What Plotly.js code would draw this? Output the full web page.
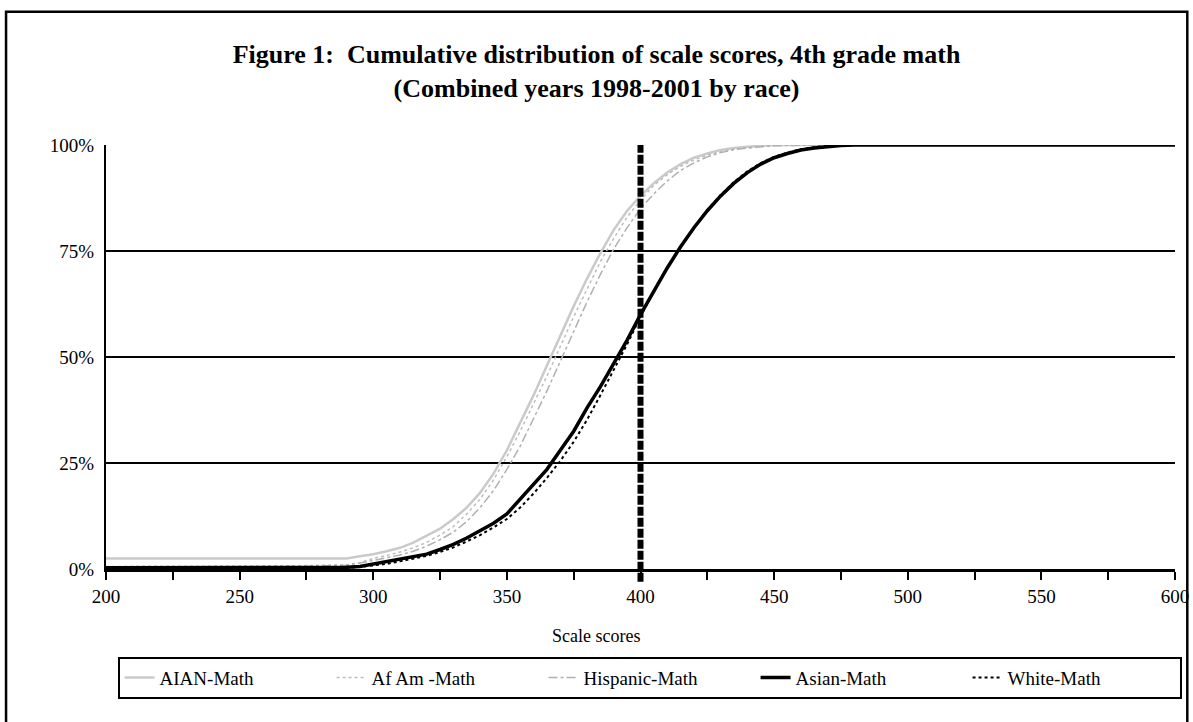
<!DOCTYPE html>
<html>
<head>
<meta charset="utf-8">
<script src="https://cdn.plot.ly/plotly-3.0.1.min.js"></script>
<style>
  html, body { margin: 0; padding: 0; background: #ffffff; }
  #chart { width: 1193px; height: 722px; }
</style>
</head>
<body>
<div id="chart"></div>
<script>
// Scale-score grid (x values shared by every series)
const scores = [200, 225, 250, 275, 290, 295, 300, 305, 310, 315, 320, 325, 330, 335, 340, 345,
  350, 355, 360, 365, 370, 375, 380, 385, 390, 395, 400, 405, 410, 415, 420, 425, 430, 435,
  440, 445, 450, 455, 460, 465, 470, 475, 480, 500, 550, 600];

// Cumulative percent of students at or below each score
const aianMath = [2.5, 2.5, 2.4, 2.4, 2.5, 3.0, 3.5, 4.2, 5.0, 6.2, 7.8, 9.5, 11.8, 14.5, 18.0, 22.5,
  28.0, 34.5, 41.0, 48.0, 55.0, 62.0, 68.5, 74.5, 80.0, 84.5, 88.0, 91.0, 93.5, 95.5, 97.0, 98.0, 98.8, 99.3,
  99.6, 99.8, 100, 100, 100, 100, 100, 100, 100, 100, 100, 100];
const afAmMath = [0.6, 0.6, 0.7, 0.8, 1.0, 1.5, 2.5, 3.2, 4.0, 5.0, 6.3, 8.0, 10.0, 13.0, 16.5, 21.0,
  26.5, 32.5, 39.0, 45.5, 52.5, 59.5, 66.0, 72.5, 78.0, 83.0, 87.0, 90.5, 93.0, 95.0, 96.5, 97.6, 98.4, 99.0,
  99.4, 99.7, 99.9, 100, 100, 100, 100, 100, 100, 100, 100, 100];
const hispanicMath = [0.4, 0.4, 0.5, 0.6, 0.9, 1.4, 2.0, 2.6, 3.3, 4.2, 5.4, 6.9, 8.7, 11.2, 14.5, 18.5,
  23.5, 29.0, 35.5, 42.0, 49.0, 56.0, 63.0, 69.5, 75.5, 80.5, 85.0, 88.5, 91.5, 94.0, 95.8, 97.2, 98.2, 98.9,
  99.3, 99.6, 99.8, 99.9, 100, 100, 100, 100, 100, 100, 100, 100];
const asianMath = [0.3, 0.3, 0.3, 0.3, 0.4, 0.6, 1.2, 1.6, 2.2, 2.8, 3.5, 4.6, 5.8, 7.3, 9.0, 10.8,
  13.0, 16.5, 20.0, 23.5, 28.0, 32.5, 38.0, 43.0, 48.5, 54.0, 60.0, 65.5, 71.0, 76.0, 80.5, 84.5, 88.0, 91.0,
  93.5, 95.5, 97.0, 98.0, 98.8, 99.3, 99.7, 99.9, 100, 100, 100, 100];
const whiteMath = [0.2, 0.2, 0.2, 0.2, 0.3, 0.5, 0.8, 1.2, 1.8, 2.4, 3.1, 4.0, 5.1, 6.5, 8.0, 9.8,
  11.8, 14.5, 17.8, 21.5, 25.5, 30.0, 35.2, 41.0, 47.0, 53.0, 59.5, 65.5, 71.0, 76.0, 80.5, 84.7, 88.2, 91.3,
  93.8, 95.7, 97.2, 98.2, 99.0, 99.5, 99.8, 99.9, 100, 100, 100, 100];

const seriesNames = ['AIAN-Math', 'Af Am -Math', 'Hispanic-Math', 'Asian-Math', 'White-Math'];

// Reference score marked with a heavy dashed line
const cutScore = 400;

const xTicks = [200, 250, 300, 350, 400, 450, 500, 550, 600];
const yTicks = [0, 25, 50, 75, 100];
const yTickText = ['0%', '25%', '50%', '75%', '100%'];

const serif = 'Liberation Serif, Times New Roman, serif';

const traces = [
  { x: scores, y: aianMath, name: seriesNames[0], mode: 'lines',
    line: { color: '#cacaca', width: 2.5 } },
  { x: scores, y: afAmMath, name: seriesNames[1], mode: 'lines',
    line: { color: '#bdbdbd', width: 1.5, dash: 'dot' } },
  { x: scores, y: hispanicMath, name: seriesNames[2], mode: 'lines',
    line: { color: '#b0b0b0', width: 1.5, dash: 'dashdot' } },
  { x: scores, y: asianMath, name: seriesNames[3], mode: 'lines',
    line: { color: '#000000', width: 3.5 } },
  { x: scores, y: whiteMath, name: seriesNames[4], mode: 'lines',
    line: { color: '#000000', width: 2, dash: 'dot' } }
];

const layout = {
  width: 1193,
  height: 722,
  margin: { l: 106, r: 17, t: 145, b: 153 },
  paper_bgcolor: '#ffffff',
  plot_bgcolor: '#ffffff',
  font: { family: serif, color: '#000000', size: 19 },
  title: {
    text: '<b>Figure 1:  Cumulative distribution of scale scores, 4th grade math</b><br><b>(Combined years 1998-2001 by race)</b>',
    font: { family: serif, size: 26, color: '#000000' },
    x: 0.5, xref: 'container', xanchor: 'center',
    y: 0.913, yref: 'container', yanchor: 'top'
  },
  xaxis: {
    range: [200, 600],
    tickvals: xTicks,
    ticks: 'outside', ticklen: 8, tickwidth: 2, tickcolor: '#000000',
    minor: { dtick: 25, tick0: 200, ticks: 'outside', ticklen: 8, tickwidth: 2, tickcolor: '#000000', showgrid: false },
    showline: true, linecolor: '#000000', linewidth: 3,
    showgrid: false, zeroline: false,
    tickfont: { family: serif, size: 19 }
  },
  yaxis: {
    range: [0, 100],
    tickvals: yTicks, ticktext: yTickText,
    ticks: '', ticklabelstandoff: 6,
    showline: true, linecolor: '#000000', linewidth: 2,
    showgrid: true, gridcolor: '#000000', gridwidth: 2,
    zeroline: false,
    tickfont: { family: serif, size: 19 }
  },
  annotations: [
    { text: 'Scale scores', xref: 'paper', yref: 'paper', x: 0.458, y: -0.158,
      xanchor: 'center', yanchor: 'middle', showarrow: false,
      font: { family: serif, size: 18, color: '#000000' } }
  ],
  showlegend: true,
  legend: {
    orientation: 'h',
    x: 0.508, xanchor: 'center',
    y: -0.207, yanchor: 'top',
    bgcolor: '#ffffff',
    bordercolor: '#000000', borderwidth: 2,
    font: { family: serif, size: 19 },
    entrywidth: 167,
    traceorder: 'normal'
  },
  shapes: [
    { type: 'line', xref: 'x', yref: 'paper', x0: cutScore, x1: cutScore, y0: -0.03, y1: 1,
      line: { color: '#000000', width: 6, dash: '9px,2px' } },
    { type: 'rect', xref: 'paper', yref: 'paper', x0: -0.0935, x1: 1.0115, y0: -0.37, y1: 1.314,
      line: { color: '#000000', width: 2.5 }, fillcolor: 'rgba(0,0,0,0)' }
  ]
};

Plotly.newPlot('chart', traces, layout, { staticPlot: true, displayModeBar: false });
</script>
</body>
</html>
